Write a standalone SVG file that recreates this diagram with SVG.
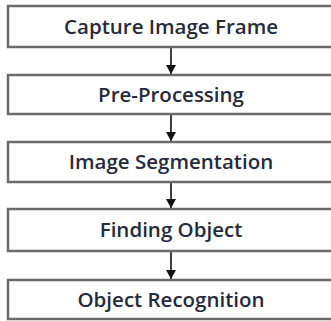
<svg xmlns="http://www.w3.org/2000/svg" width="331" height="321" viewBox="0 0 331 321">
<style>
.box{fill:#fff;stroke:#6b6b6b;stroke-width:2.5}
.lbl{font-family:"Open Sans","Liberation Sans",sans-serif;font-size:20.5px;font-weight:600;fill:#252b3b;text-anchor:middle}
.conn{stroke:#111;stroke-width:1.6;fill:none}
</style>
<defs>
<marker id="ah" markerWidth="9" markerHeight="10" refX="9" refY="5" orient="auto" markerUnits="userSpaceOnUse">
<path d="M0,0 L9,5 L0,10 Z" fill="#111"/>
</marker>
</defs>
<g id="connectors">
<line class="conn" x1="171" y1="47" x2="171" y2="74" marker-end="url(#ah)"/>
<line class="conn" x1="171" y1="114" x2="171" y2="141" marker-end="url(#ah)"/>
<line class="conn" x1="171" y1="182" x2="171" y2="208" marker-end="url(#ah)"/>
<line class="conn" x1="171" y1="251" x2="171" y2="279" marker-end="url(#ah)"/>
</g>
<g id="n1"><rect class="box" x="8" y="6" width="326" height="41"/><text class="lbl" x="171" y="34">Capture Image Frame</text></g>
<g id="n2"><rect class="box" x="8" y="75" width="326" height="39"/><text class="lbl" x="171" y="102">Pre-Processing</text></g>
<g id="n3"><rect class="box" x="8" y="142" width="326" height="40"/><text class="lbl" x="171" y="169">Image Segmentation</text></g>
<g id="n4"><rect class="box" x="8" y="209" width="326" height="42"/><text class="lbl" x="171" y="237">Finding Object</text></g>
<g id="n5"><rect class="box" x="8" y="280" width="326" height="39"/><text class="lbl" x="171" y="307">Object Recognition</text></g>
</svg>
